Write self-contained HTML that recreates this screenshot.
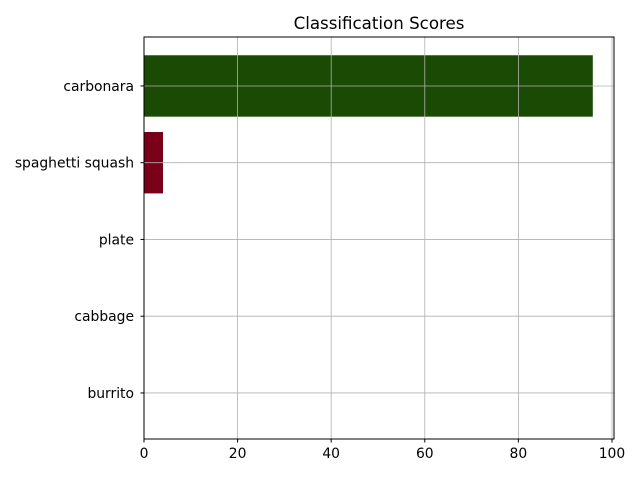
<!DOCTYPE html>
<html><head><meta charset="utf-8"><style>
body{margin:0;background:#fff;}
svg{display:block;font-family:"DejaVu Sans","Liberation Sans",sans-serif;}
</style></head><body>
<svg id="chart" width="640" height="480">
<rect width="640" height="480" fill="#fff"/>
<text x="379" y="29" font-size="16.67" text-anchor="middle">Classification Scores</text>
<g id="bars"></g>
<g id="grid"></g>
<rect x="144" y="37" width="470" height="402" fill="none" stroke="#000" stroke-width="1"/>
<g id="ticks"></g>
</svg>
<script>
const categories = ["carbonara","spaghetti squash","plate","cabbage","burrito"];
const scores = [95.9, 4.06, 0.01, 0.01, 0.01];
const barColors = ["#1a4a04","#7a0019","#444","#444","#444"];
const xTicks = [0,20,40,60,80,100];

const L=144,R=614,T=37,B=439, xMax=100.43;
const n=categories.length;
const yMin=-0.6, yMax=n-1+0.638;
const x=v=>L+(v/xMax)*(R-L);
const y=i=>{const pos=n-1-i;return B-(pos-yMin)/(yMax-yMin)*(B-T);};
const unit=(B-T)/(yMax-yMin);
const NS="http://www.w3.org/2000/svg";
const bars=document.getElementById('bars'),grid=document.getElementById('grid'),ticks=document.getElementById('ticks');
function mk(tag,attrs,parent){const e=document.createElementNS(NS,tag);for(const k in attrs)e.setAttribute(k,attrs[k]);parent.appendChild(e);return e;}
categories.forEach((c,i)=>{
  const r=mk('rect',{x:L,y:y(i)-0.4*unit,width:x(scores[i])-L,height:0.8*unit,fill:barColors[i]},bars);
  
  
  const g=mk('line',{x1:L,x2:R,y1:y(i),y2:y(i),stroke:'#b0b0b0','stroke-width':0.8},grid);
  
  
  mk('line',{x1:L-3.5,x2:L,y1:y(i),y2:y(i),stroke:'#000'},ticks);
  const t=mk('text',{x:L-10,y:y(i)+5,'font-size':13.89,'text-anchor':'end'},ticks);
  t.textContent=c;
  
  
});
xTicks.forEach(v=>{
  const g=mk('line',{x1:x(v),x2:x(v),y1:T,y2:B,stroke:'#b0b0b0','stroke-width':0.8},grid);
  
  
  mk('line',{x1:x(v),x2:x(v),y1:B,y2:B+3.5,stroke:'#000'},ticks);
  const t=mk('text',{x:x(v),y:B+19,'font-size':13.89,'text-anchor':'middle'},ticks);
  t.textContent=v;
  
  
});
</script>
</body></html>
